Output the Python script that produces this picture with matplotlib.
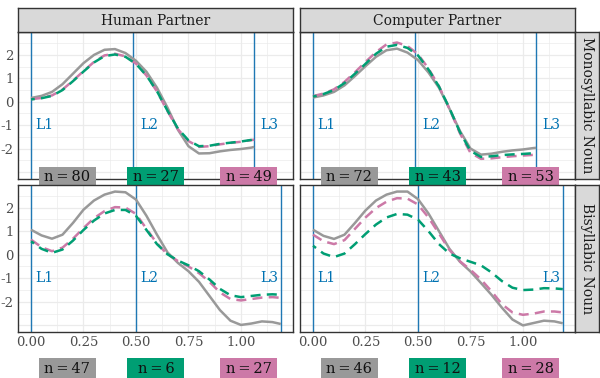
import matplotlib
matplotlib.use("Agg")
import matplotlib.pyplot as plt
from matplotlib.patches import Rectangle
import numpy as np

plt.rcParams['font.family'] = ['DejaVu Serif']

# ---------------- data ----------------
partners = ["Human Partner", "Computer Partner"]
nouns = ["Monosyllabic Noun", "Bisyllabic Noun"]
series_names = ["gray", "green", "pink"]
series_colors = ["#999999", "#009E73", "#CC79A7"]

x_mono = [0, 0.05, 0.10, 0.15, 0.20, 0.25, 0.30, 0.35, 0.40, 0.45, 0.50, 0.55,
          0.60, 0.65, 0.70, 0.75, 0.80, 0.85, 0.90, 0.95, 1.00, 1.05, 1.063]
x_bi = [0, 0.05, 0.10, 0.15, 0.20, 0.25, 0.30, 0.35, 0.40, 0.45, 0.50, 0.55,
        0.60, 0.65, 0.70, 0.75, 0.80, 0.85, 0.90, 0.95, 1.00, 1.05, 1.10, 1.15, 1.19]

# Monosyllabic / Human
mh_gray = [0.16, 0.25, 0.42, 0.75, 1.2, 1.65, 2.0, 2.22, 2.25, 2.08, 1.75, 1.28,
           0.6, -0.25, -1.2, -1.9, -2.21, -2.2, -2.12, -2.06, -2.02, -1.96, -1.93]
mh_green = [0.1, 0.15, 0.25, 0.5, 0.88, 1.29, 1.68, 1.95, 2.02, 1.92, 1.62, 1.12,
            0.45, -0.38, -1.15, -1.65, -1.9, -1.88, -1.8, -1.75, -1.7, -1.63, -1.6]
mh_pink = [0.11, 0.16, 0.27, 0.52, 0.9, 1.31, 1.7, 1.98, 2.05, 1.94, 1.63, 1.12,
           0.44, -0.4, -1.18, -1.68, -1.93, -1.9, -1.82, -1.76, -1.71, -1.64, -1.62]
# Monosyllabic / Computer
mc_gray = [0.18, 0.27, 0.42, 0.7, 1.1, 1.52, 1.92, 2.2, 2.27, 2.1, 1.78, 1.25,
           0.6, -0.3, -1.25, -2.0, -2.26, -2.22, -2.14, -2.08, -2.04, -1.98, -1.97]
mc_green = [0.22, 0.33, 0.5, 0.8, 1.2, 1.62, 2.05, 2.35, 2.43, 2.3, 1.98, 1.38,
            0.65, -0.28, -1.3, -2.1, -2.36, -2.33, -2.28, -2.25, -2.23, -2.2, -2.2]
mc_pink = [0.24, 0.35, 0.53, 0.85, 1.26, 1.7, 2.12, 2.45, 2.53, 2.38, 2.03, 1.42,
           0.66, -0.3, -1.35, -2.18, -2.44, -2.42, -2.37, -2.33, -2.3, -2.27, -2.26]
# Bisyllabic / Human
bh_gray = [1.06, 0.82, 0.68, 0.85, 1.35, 1.91, 2.3, 2.55, 2.68, 2.65, 2.34, 1.65,
           0.85, 0.1, -0.35, -0.7, -1.15, -1.75, -2.35, -2.8, -2.98, -2.92, -2.83, -2.86, -2.94]
bh_green = [0.57, 0.25, 0.08, 0.22, 0.6, 1.05, 1.45, 1.75, 1.9, 1.9, 1.65, 1.05,
            0.45, 0.02, -0.25, -0.45, -0.7, -1.05, -1.45, -1.72, -1.8, -1.75, -1.7, -1.68, -1.7]
bh_pink = [0.64, 0.32, 0.15, 0.3, 0.68, 1.13, 1.55, 1.85, 2.02, 2.0, 1.73, 1.1,
           0.48, 0.02, -0.27, -0.5, -0.78, -1.15, -1.6, -1.88, -1.94, -1.88, -1.82, -1.8, -1.83]
# Bisyllabic / Computer
bc_gray = [1.06, 0.8, 0.67, 0.85, 1.35, 1.88, 2.3, 2.55, 2.68, 2.68, 2.36, 1.75,
           1.0, 0.25, -0.3, -0.71, -1.2, -1.7, -2.25, -2.75, -3.0, -2.9, -2.8, -2.83, -2.91]
bc_green = [0.38, 0.05, -0.1, 0.05, 0.45, 0.88, 1.28, 1.58, 1.73, 1.7, 1.49, 1.0,
            0.45, 0.05, -0.15, -0.3, -0.45, -0.75, -1.12, -1.4, -1.5, -1.48, -1.42, -1.43, -1.46]
bc_pink = [0.85, 0.57, 0.45, 0.62, 1.1, 1.58, 1.98, 2.25, 2.4, 2.38, 2.13, 1.58,
           0.9, 0.2, -0.28, -0.64, -1.05, -1.55, -2.1, -2.45, -2.55, -2.5, -2.41, -2.41, -2.45]

# landmark positions per row
landmarks_mono = [0.0, 0.485, 1.063]
landmarks_bi = [0.0, 0.5, 1.19]
landmark_labels = ["L1", "L2", "L3"]
landmark_label_x = [0.02, 0.52, 1.09]

# counts per panel (gray, green, pink)
counts = {
    (0, 0): [80, 27, 49], (0, 1): [72, 43, 53],
    (1, 0): [47, 6, 27], (1, 1): [46, 12, 28],
}
count_x = [0.173, 0.595, 1.038]

panel_data = {
    (0, 0): (x_mono, [mh_gray, mh_green, mh_pink]),
    (0, 1): (x_mono, [mc_gray, mc_green, mc_pink]),
    (1, 0): (x_bi, [bh_gray, bh_green, bh_pink]),
    (1, 1): (x_bi, [bc_gray, bc_green, bc_pink]),
}

# ---------------- layout ----------------
W, H = 600, 378
fig = plt.figure(figsize=(W / 100, H / 100), dpi=100)

xlim = (-0.062, 1.248)
ylim = (-3.28, 2.98)

col_x = [(18, 293), (300, 575)]
row_y = [(32, 178.5), (184.5, 332)]
line_c = "#1F78B4"
blue = "#0072B2"

def fx(px):
    return px / W

def fy(py):
    return 1 - py / H

box_w = 57 / 210.0      # label box width in data units
box_h = 21.5 / 23.45    # label box height in data units

for r in range(2):
    for c in range(2):
        x0, x1 = col_x[c]
        y0, y1 = row_y[r]
        ax = fig.add_axes([fx(x0), fy(y1), fx(x1) - fx(x0), fy(y0) - fy(y1)])
        ax.set_xlim(*xlim)
        ax.set_ylim(*ylim)
        ax.set_facecolor("white")
        # grid
        for gx in np.arange(0, 1.3, 0.125):
            major = abs(gx / 0.25 - round(gx / 0.25)) < 1e-6
            ax.axvline(gx, color="#EBEBEB", lw=0.9 if major else 0.5, zorder=0)
        for gy in np.arange(-3, 3.01, 0.5):
            major = abs(gy - round(gy)) < 1e-6
            ax.axhline(gy, color="#EBEBEB", lw=0.9 if major else 0.5, zorder=0)
        for sp in ax.spines.values():
            sp.set_color("#333333")
            sp.set_linewidth(1.0)
        ax.set_yticks([-2, -1, 0, 1, 2])
        ax.set_xticks([0, 0.25, 0.5, 0.75, 1.0])
        ax.tick_params(length=0, labelsize=9.5, colors="#4D4D4D", pad=3)
        if c == 0:
            ax.set_yticklabels(["-2", "-1", "0", "1", "2"])
        else:
            ax.set_yticklabels([])
        if r == 1:
            ax.set_xticklabels(["0.00", "0.25", "0.50", "0.75", "1.00"])
        else:
            ax.set_xticklabels([])

        lms = landmarks_mono if r == 0 else landmarks_bi
        for lx in lms:
            ax.axvline(lx, color=line_c, lw=1.0, zorder=1)
        for lab, lx in zip(landmark_labels, landmark_label_x):
            ax.text(lx, -1.0, lab, color=blue, fontsize=10, ha="left", va="center", zorder=2)

        xs, ys = panel_data[(r, c)]
        ax.plot(xs, ys[0], color=series_colors[0], lw=1.8, zorder=3, solid_capstyle="butt")
        ax.plot(xs, ys[2], color=series_colors[2], lw=1.8, ls=(0, (4, 2.5)), zorder=4)
        ax.plot(xs, ys[1], color=series_colors[1], lw=1.8, ls=(2.5, (4, 2.5)), zorder=4)

        # count labels
        label_y = -3.23 if r == 0 else -4.83
        for k in range(3):
            rect = Rectangle((count_x[k] - box_w / 2, label_y - box_h / 2), box_w, box_h,
                             facecolor=series_colors[k], edgecolor="none",
                             clip_on=False, zorder=9)
            ax.add_patch(rect)
            ax.text(count_x[k], label_y, "n\u2009=\u2009%d" % counts[(r, c)][k], fontsize=10.5,
                    ha="center", va="center", color="#111111", clip_on=False, zorder=10)

        # top strip
        if r == 0:
            sax = fig.add_axes([fx(x0), fy(32), fx(x1) - fx(x0), fy(8) - fy(32)])
            sax.set_xticks([]); sax.set_yticks([])
            sax.set_facecolor("#D9D9D9")
            for sp in sax.spines.values():
                sp.set_color("#333333"); sp.set_linewidth(1.0)
            sax.text(0.5, 0.45, partners[c], ha="center", va="center", fontsize=10,
                     color="#1A1A1A", transform=sax.transAxes)
        # right strip
        if c == 1:
            rax = fig.add_axes([fx(575), fy(y1), fx(598.5) - fx(575), fy(y0) - fy(y1)])
            rax.set_xticks([]); rax.set_yticks([])
            rax.set_facecolor("#D9D9D9")
            for sp in rax.spines.values():
                sp.set_color("#333333"); sp.set_linewidth(1.0)
            rax.text(0.5, 0.5, nouns[r], ha="center", va="center", fontsize=10,
                     color="#1A1A1A", rotation=-90, transform=rax.transAxes)

fig.savefig("out.png", dpi=100)
